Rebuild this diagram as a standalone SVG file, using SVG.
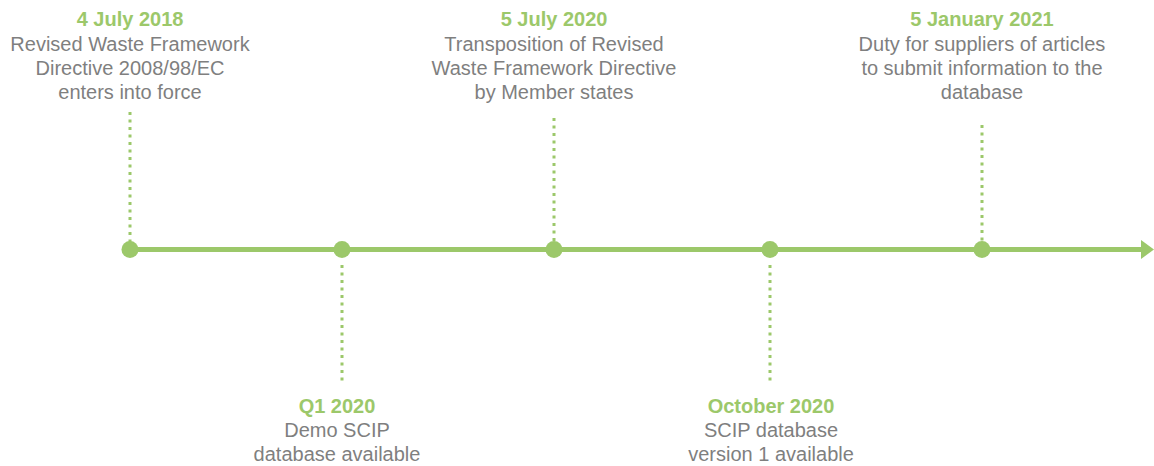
<svg xmlns="http://www.w3.org/2000/svg" width="1154" height="466" viewBox="0 0 1154 466">
<style>
.t{font-family:"Liberation Sans",Arial,sans-serif;font-size:20px;text-anchor:middle;}
.h{fill:#9CC86A;font-weight:bold;}
.b{fill:#7F7F7F;}
.dot{stroke:#9CC86A;stroke-width:3;stroke-dasharray:3 4.5;fill:none;}
.node circle{fill:#9CC86A;}
</style>
<rect width="1154" height="466" fill="#fff"/>
<g id="connectors">
<line x1="130" y1="249.5" x2="1143" y2="249.5" stroke="#9CC86A" stroke-width="5"/>
<polygon points="1141,240 1154,249.5 1141,259" fill="#9CC86A"/>
<line class="dot" x1="130" y1="112" x2="130" y2="242"/>
<line class="dot" x1="554" y1="118" x2="554" y2="242"/>
<line class="dot" x1="982" y1="125" x2="982" y2="242"/>
<line class="dot" x1="342" y1="265" x2="342" y2="382"/>
<line class="dot" x1="770" y1="265" x2="770" y2="382"/>
</g>
<g id="n1" class="node">
<circle cx="130" cy="249.5" r="8.5"/>
<text class="t h" x="130" y="26">4 July 2018</text>
<text class="t b" x="130" y="51">Revised Waste Framework</text>
<text class="t b" x="130" y="75">Directive 2008/98/EC</text>
<text class="t b" x="130" y="99">enters into force</text>
</g>
<g id="n2" class="node">
<circle cx="342" cy="249.5" r="8.5"/>
<text class="t h" x="337" y="413">Q1 2020</text>
<text class="t b" x="337" y="437">Demo SCIP</text>
<text class="t b" x="337" y="461">database available</text>
</g>
<g id="n3" class="node">
<circle cx="554" cy="249.5" r="8.5"/>
<text class="t h" x="554" y="26">5 July 2020</text>
<text class="t b" x="554" y="51">Transposition of Revised</text>
<text class="t b" x="554" y="75">Waste Framework Directive</text>
<text class="t b" x="554" y="99">by Member states</text>
</g>
<g id="n4" class="node">
<circle cx="770" cy="249.5" r="8.5"/>
<text class="t h" x="771" y="413">October 2020</text>
<text class="t b" x="771" y="437">SCIP database</text>
<text class="t b" x="771" y="461">version 1 available</text>
</g>
<g id="n5" class="node">
<circle cx="982" cy="249.5" r="8.5"/>
<text class="t h" x="982" y="26">5 January 2021</text>
<text class="t b" x="982" y="51">Duty for suppliers of articles</text>
<text class="t b" x="982" y="75">to submit information to the</text>
<text class="t b" x="982" y="99">database</text>
</g>
</svg>
